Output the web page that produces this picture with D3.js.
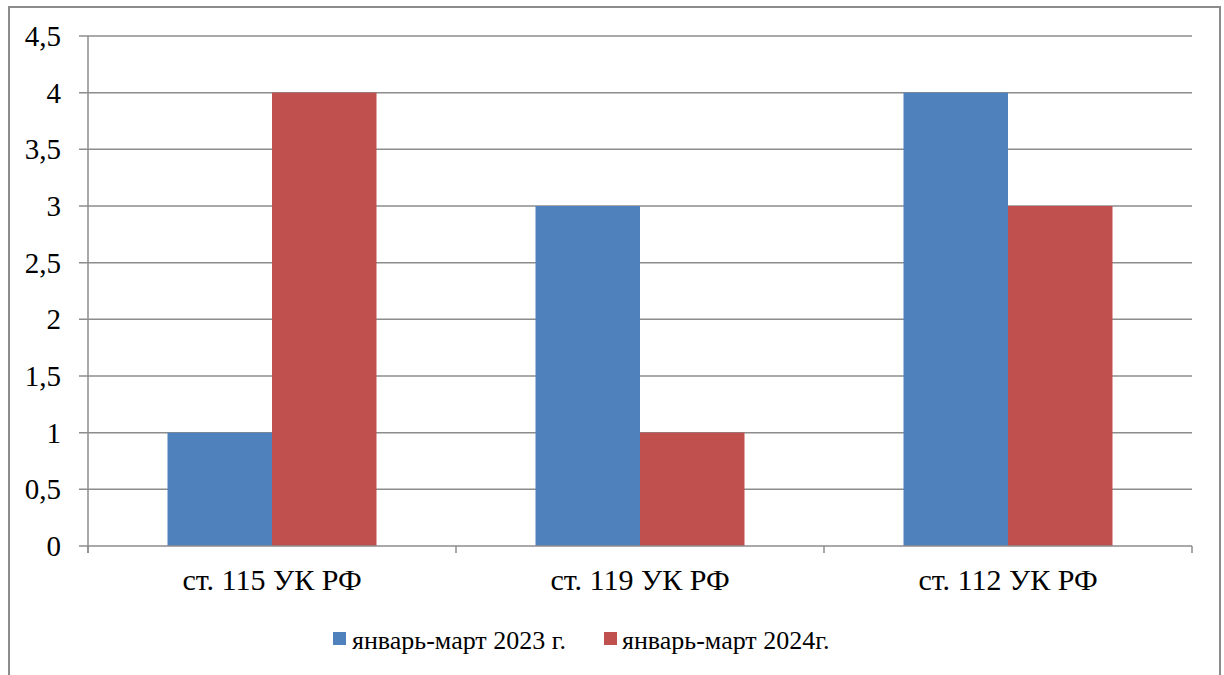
<!DOCTYPE html>
<html><head><meta charset="utf-8">
<script src="https://cdn.jsdelivr.net/npm/d3@7"></script>
<style>body{margin:0;background:#fff}svg{display:block}</style>
</head><body>
<svg id="c" width="1224" height="675"></svg>
<script>
const categories = ["ст. 115 УК РФ", "ст. 119 УК РФ", "ст. 112 УК РФ"];
const seriesNames = ["январь-март 2023 г.", "январь-март 2024г."];
const values2023 = [1, 3, 4];
const values2024 = [4, 1, 3];
const yTicks = [0, 0.5, 1, 1.5, 2, 2.5, 3, 3.5, 4, 4.5];
const yTickLabels = ["0", "0,5", "1", "1,5", "2", "2,5", "3", "3,5", "4", "4,5"];
const colors = ["#4F81BD", "#C0504D"];

(function(){
const svg = d3.select("#c");
const grey = "#8c8c8c";
const FONT = '"Liberation Serif", "Times New Roman", serif';

// frame
svg.append("path").attr("d", "M9,680 V7 H1220 V680").attr("fill","none").attr("stroke",grey).attr("stroke-width",2);

const pl = 88, pr = 1192, pt = 36, pb = 546;
const x = d3.scaleBand().domain(categories).range([pl, pr]).paddingInner(0).paddingOuter(0);
const y = d3.scaleLinear().domain([0, 4.5]).range([pb, pt]);
const groupW = 209;

// gridlines
svg.append("g").selectAll("line").data(yTicks.filter(d=>d>0)).join("line")
  .attr("x1", pl - 9).attr("x2", pr).attr("y1", d=>y(d)).attr("y2", d=>y(d))
  .attr("stroke", grey).attr("stroke-width", 1.5);

// bars
const data = [values2023, values2024];
const g = svg.append("g");
categories.forEach((c, i) => {
  const gx = x(c) + (x.bandwidth() - groupW) / 2;
  const bx = d3.scaleBand().domain([0,1]).range([gx, gx + groupW]);
  data.forEach((vals, s) => {
    g.append("rect").attr("x", bx(s)).attr("width", bx.bandwidth())
      .attr("y", y(vals[i])).attr("height", y(0) - y(vals[i])).attr("fill", colors[s]);
  });
});

// axes lines
svg.append("line").attr("x1", pl).attr("x2", pl).attr("y1", pt).attr("y2", pb + 7).attr("stroke", grey).attr("stroke-width", 1.5);
svg.append("line").attr("x1", pl - 9).attr("x2", pr).attr("y1", pb).attr("y2", pb).attr("stroke", grey).attr("stroke-width", 1.5);
const catTicks = categories.map(c => x(c)).concat([pr]);
svg.append("g").selectAll("line").data(catTicks).join("line")
  .attr("x1", d=>d).attr("x2", d=>d).attr("y1", pb).attr("y2", pb + 7)
  .attr("stroke", grey).attr("stroke-width", 1.5);

// y labels
svg.append("g").selectAll("text").data(yTicks).join("text")
  .attr("x", 61).attr("y", d => y(d) + 10).attr("text-anchor", "end")
  .attr("font-family", "Liberation Serif")
  .style("font-family", FONT).style("font-size", "29px").attr("fill", "#000")
  .text((d, i) => yTickLabels[i]);

// x labels
svg.append("g").selectAll("text").data(categories).join("text")
  .attr("x", d => x(d) + x.bandwidth()/2).attr("y", 590).attr("text-anchor", "middle")
  .style("font-family", FONT).style("font-size", "30px").attr("fill", "#000").text(d => d);

// legend
const legX = [333, 604];
const legT = [352, 622];
seriesNames.forEach((n, s) => {
  svg.append("rect").attr("x", legX[s]).attr("y", 632).attr("width", 13).attr("height", 13).attr("fill", colors[s]);
  svg.append("text").attr("x", legT[s]).attr("y", 649)
    .style("font-family", FONT).style("font-size", "26px").attr("fill", "#000").text(n);
});
})();
</script>
</body></html>
